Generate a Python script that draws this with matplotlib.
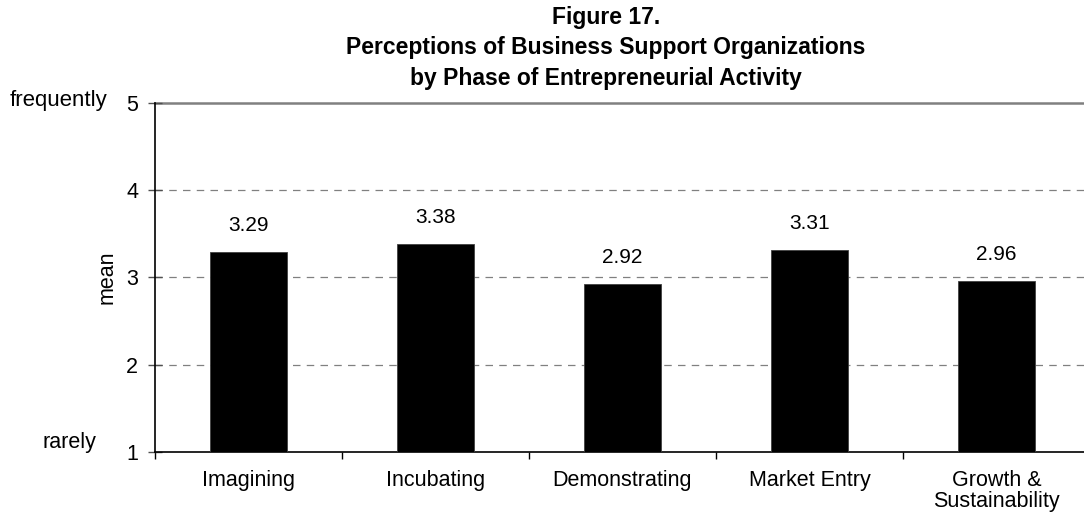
import matplotlib.pyplot as plt
import numpy as np

plt.rcParams['font.family'] = ['Liberation Sans', 'DejaVu Sans']

# data
phases = ['Imagining', 'Incubating', 'Demonstrating', 'Market Entry', 'Growth &\nSustainability']
means = [3.29, 3.38, 2.92, 3.31, 2.96]
y_ticks = [1, 2, 3, 4, 5]
title_lines = ['Figure 17.',
               'Perceptions of Business Support Organizations',
               'by Phase of Entrepreneurial Activity']

W, H = 1084, 525
fig = plt.figure(figsize=(W / 100, H / 100), dpi=100)
# plot area in pixels: left 155, right ~1090 (runs past the edge), top 102.7, bottom 452
ax = fig.add_axes([155 / W, (H - 452) / H, (1090 - 155) / W, (452 - 102.7) / H])

x = np.arange(len(phases))
ax.bar(x, means, width=0.41, color='black', edgecolor='#404040', linewidth=0.6, zorder=3)
ax.set_ylim(1, 5)
ax.set_xlim(-0.5, len(phases) - 0.5)

# value labels, baseline ~21 px above the bar top
for xi, v in zip(x, means):
    ax.text(xi, v + 0.24, f'{v:.2f}', ha='center', va='baseline', fontsize=15)

# grid: dashed at 2-4, solid gray at top
for t in y_ticks[1:-1]:
    ax.axhline(t, color='#808080', lw=0.9, ls=(0, (6, 5)), zorder=1)
ax.axhline(5, color='#808080', lw=1.8, zorder=1, clip_on=False)

ax.spines['top'].set_visible(False)
ax.spines['right'].set_visible(False)
ax.spines['left'].set_linewidth(1.2)
ax.spines['bottom'].set_linewidth(1.2)

ax.set_yticks(y_ticks)
ax.set_yticklabels([str(t) for t in y_ticks], fontsize=15.5)
ax.tick_params(axis='y', direction='inout', length=10, width=1, color='#505050', pad=7)

# x ticks at category boundaries, labels centered under bars
ax.set_xticks(np.arange(len(phases) + 1) - 0.5)
ax.set_xticklabels([])
ax.set_xticks(x, minor=True)
ax.set_xticklabels(phases, minor=True, fontsize=15.5, linespacing=1.0)
ax.tick_params(axis='x', which='major', direction='out', length=5, width=1)
ax.tick_params(axis='x', which='minor', length=0, pad=13)

fig.text(107 / W, 1 - 277 / H, 'mean', fontsize=15.5, rotation=90, ha='center', va='center')

# the word labels at top and bottom of the scale
fig.text(10 / W, 1 - 101 / H, 'frequently', fontsize=16, ha='left', va='center')
fig.text(43 / W, 1 - 448 / H, 'rarely', fontsize=15.5, ha='left', va='baseline')

for line, base in zip(title_lines, [24, 54, 85]):
    fig.text(606 / W, 1 - base / H, line, ha='center', va='baseline',
             fontsize=16.5, fontweight='bold')

fig.savefig('out.png', dpi=100)
